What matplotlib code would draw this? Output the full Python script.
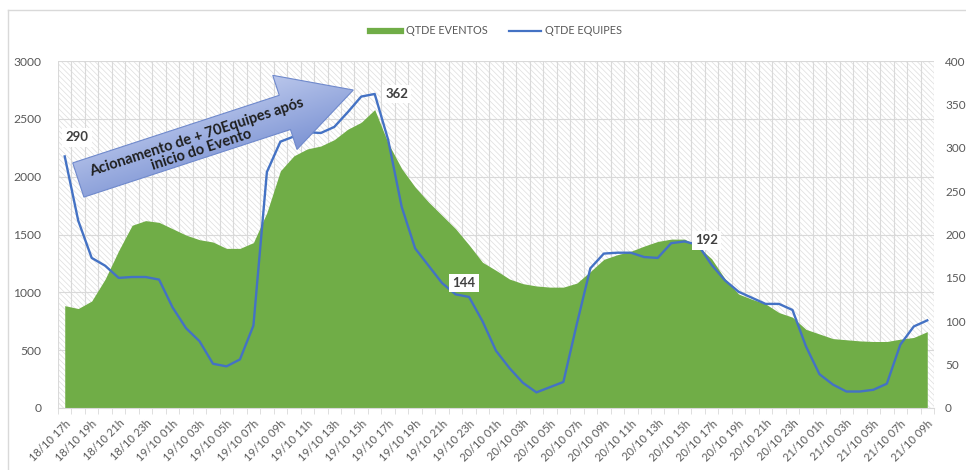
import matplotlib
matplotlib.use('Agg')
import matplotlib.pyplot as plt
import numpy as np
from matplotlib.patches import Rectangle, Polygon
from matplotlib.lines import Line2D
from matplotlib.colors import LinearSegmentedColormap

# hourly values, 18/10 17h -> 21/10 09h
eventos = [885, 860, 925, 1115, 1360, 1580, 1620, 1605, 1550, 1495,
           1455, 1435, 1380, 1380, 1430, 1690, 2050, 2180, 2240, 2265,
           2320, 2410, 2470, 2580, 2290, 2070, 1910, 1780, 1665, 1550,
           1410, 1260, 1190, 1115, 1075, 1055, 1045, 1045, 1080, 1180,
           1285, 1325, 1355, 1400, 1440, 1460, 1460, 1395, 1290, 1115,
           985, 940, 900, 825, 785, 680, 640, 600, 590, 580,
           575, 575, 595, 610, 660]
equipes = [290, 216, 173, 164, 150, 151, 151, 148, 116, 92,
           77, 51, 48, 56, 95, 272, 307, 313, 318, 317,
           324, 341, 359, 362, 309, 232, 184, 164, 144, 131,
           128, 100, 66, 46, 29, 18, 24, 30, 97, 161,
           178, 179, 179, 174, 173, 190, 192, 188, 165, 147,
           134, 127, 120, 120, 113, 71, 39, 27, 19, 19,
           21, 28, 73, 94, 101]
tick_labels = ['18/10 17h', '18/10 19h', '18/10 21h', '18/10 23h',
               '19/10 01h', '19/10 03h', '19/10 05h', '19/10 07h', '19/10 09h',
               '19/10 11h', '19/10 13h', '19/10 15h', '19/10 17h', '19/10 19h',
               '19/10 21h', '19/10 23h',
               '20/10 01h', '20/10 03h', '20/10 05h', '20/10 07h', '20/10 09h',
               '20/10 11h', '20/10 13h', '20/10 15h', '20/10 17h', '20/10 19h',
               '20/10 21h', '20/10 23h',
               '21/10 01h', '21/10 03h', '21/10 05h', '21/10 07h', '21/10 09h']
label_idx = [0, 23, 28, 46]
label_off = [(12, 19), (22, 0), (22, 0), (22, 1)]

plt.rcParams['font.family'] = ['Lato', 'DejaVu Sans']
plt.rcParams['hatch.color'] = '#dedede'
plt.rcParams['hatch.linewidth'] = 0.5

GREEN = '#70ad47'
BLUE = '#4472c4'
GRID = '#d9d9d9'
TXT = '#595959'

fig = plt.figure(figsize=(9.66, 4.70), dpi=100)
ax = fig.add_axes([58/966, 62/470, 876/966, 347/470])

x = np.arange(len(eventos))

# hatched plot area
ax.add_patch(Rectangle((0, 0), 1, 1, transform=ax.transAxes, facecolor='white',
                       edgecolor='#dedede', hatch='\\' * 6, lw=0, zorder=0))
ax.fill_between(x, 0, eventos, color=GREEN, lw=0, zorder=2)
ax.set_xlim(-0.5, len(x) - 0.5)
ax.set_ylim(0, 3000)
ax.set_yticks(range(0, 3001, 500))
ax.set_xticks(x[::2])
ax.set_xticklabels(tick_labels, rotation=45, ha='right', rotation_mode='anchor')
ax.set_xticks(np.arange(-0.5, len(x), 1), minor=True)
ax.set_axisbelow(True)
ax.yaxis.grid(True, color=GRID, lw=0.8)
ax.xaxis.grid(True, which='minor', color=GRID, lw=0.8)
ax.xaxis.grid(False, which='major')
for s in ['top', 'left', 'right']:
    ax.spines[s].set_visible(False)
ax.spines['bottom'].set_color(GRID)
ax.tick_params(axis='y', length=0, pad=12, labelcolor=TXT, labelsize=8.7)
ax.tick_params(axis='x', which='major', length=0, pad=7, labelcolor=TXT, labelsize=8)
ax.tick_params(axis='x', which='minor', length=4, color=GRID)

ax2 = ax.twinx()
ax2.plot(x, equipes, color=BLUE, lw=1.7, zorder=3)
ax2.set_ylim(0, 400)
ax2.set_yticks(range(0, 401, 50))
for s in ax2.spines.values():
    s.set_visible(False)
ax2.tick_params(axis='y', length=0, pad=8, labelcolor=TXT, labelsize=8.5)

for i, (dx, dy) in zip(label_idx, label_off):
    ax2.annotate(str(equipes[i]), (i, equipes[i]), xytext=(dx, dy),
                 textcoords='offset pixels', ha='center', va='center',
                 fontsize=9.5, fontweight='bold', color='#404040', zorder=6,
                 bbox=dict(boxstyle='square,pad=0.25', fc='white', ec='none'))

fig.legend(handles=[Line2D([], [], color=GREEN, lw=4.5),
                    Line2D([], [], color=BLUE, lw=1.6)],
           labels=['QTDE EVENTOS', 'QTDE EQUIPES'], loc='center',
           bbox_to_anchor=(496/966, 1 - 31/470), ncol=2, frameon=False,
           fontsize=7.8, handlelength=2.9, handletextpad=0.4,
           columnspacing=2.0, labelcolor=TXT)

# chart border (left + top)
fig.add_artist(Line2D([8/966, 8/966], [0, 1 - 10/470], transform=fig.transFigure,
                      color=GRID, lw=1))
fig.add_artist(Line2D([8/966, 1], [1 - 10/470, 1 - 10/470], transform=fig.transFigure,
                      color=GRID, lw=1))

# block arrow annotation, drawn in pixel space
ov = fig.add_axes([0, 0, 1, 1], zorder=5)
ov.set_xlim(0, 966)
ov.set_ylim(470, 0)
ov.axis('off')

tail = np.array([78.3, 180.0])
tip = np.array([353.3, 90.0])
L = np.linalg.norm(tip - tail)
d = (tip - tail) / L
n = np.array([-d[1], d[0]])
base = tail + (L - 72) * d
pts = [tail - 18*n, base - 18*n, base - 39*n, tip, base + 39*n, base + 18*n, tail + 18*n]
arrow = Polygon(pts, closed=True, facecolor='none', edgecolor='#6f89cc', lw=0.8, zorder=3)
ov.add_patch(arrow)

xs = np.arange(60, 362)
ys = np.arange(70, 205)
X, Y = np.meshgrid(xs, ys)
t = ((X - tail[0]) * n[0] + (Y - tail[1]) * n[1]) / 78 + 0.5
cmap = LinearSegmentedColormap.from_list('arr', ['#b9c6eb', '#7d94d4'])
im = ov.imshow(t, cmap=cmap, vmin=0, vmax=1, extent=(60, 362, 205, 70),
               origin='upper', aspect='auto', zorder=2)
clip = Polygon(pts, closed=True, transform=ov.transData)
im.set_clip_path(clip)
ov.set_xlim(0, 966)
ov.set_ylim(470, 0)

ang = np.degrees(np.arctan2(tail[1] - tip[1], tip[0] - tail[0]))
c = tail + 126 * d + 3 * n
ov.text(c[0], c[1], 'Acionamento de + 70Equipes após\ninicio do Evento',
        rotation=ang, rotation_mode='anchor', ha='center', va='center',
        multialignment='center', fontsize=10.5, fontweight='bold',
        color='#1f1f1f', linespacing=1.0, zorder=4)

fig.savefig('out.png', dpi=100)
